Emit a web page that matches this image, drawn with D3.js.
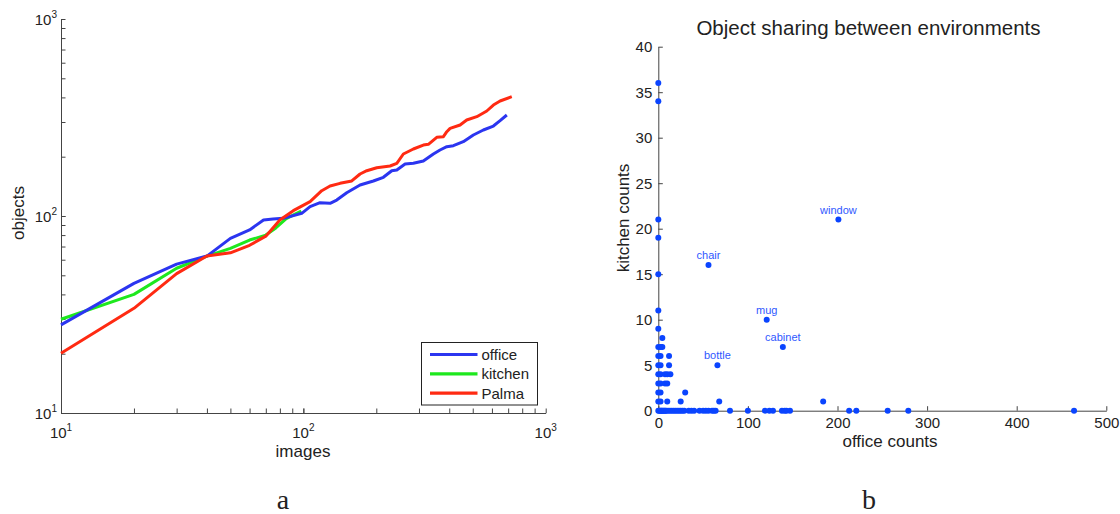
<!DOCTYPE html>
<html>
<head>
<meta charset="utf-8">
<script src="https://cdn.jsdelivr.net/npm/d3@7"></script>
<style>
  body { margin: 0; background: #fff; }
  svg { display: block; }
  text { font-family: "Liberation Sans", Arial, sans-serif; fill: #222; }
  .axis path, .axis line { stroke: #444; }
</style>
</head>
<body>
<div id="chart"></div>
<script>
// ---- panel a: objects vs images (log-log) ----
const officeImages = [10, 20, 30, 40, 50, 60, 68.5, 75, 82.7, 98.5, 106.6, 117.2, 128.9, 137.3, 151, 171.4, 194.5, 213.9, 231.6, 243, 262.9, 284.4, 312.7, 344, 366.4, 390.8, 416, 457.1, 503, 553, 608.3, 648.4, 691.2]
const officeObjects = [28, 45.5, 57, 62.6, 77, 85, 95.4, 96.5, 97.3, 103.2, 111.5, 116.8, 116, 120.5, 131.3, 143.7, 150.6, 157.2, 169.8, 171.2, 183.6, 185.1, 190.1, 206.4, 216.3, 224.9, 227.5, 238.4, 257.8, 273.3, 286.2, 304.7, 325.6]

const kitchenImages = [10, 20, 30, 40, 50, 60, 70, 77, 85, 92, 98]
const kitchenObjects = [29.9, 40, 54.3, 62.6, 68.5, 75.5, 80, 87, 97, 102, 106]

const palmaImages = [10, 20, 30, 40, 50, 60, 70, 80, 90.9, 106.6, 119.1, 128.9, 141.7, 158.4, 171.4, 182.7, 200.9, 228, 243, 258.6, 284.4, 312.7, 328, 355.2, 378.4, 390.8, 403.2, 443.4, 472.1, 519.5, 571.4, 608.3, 648.4, 724.4]
const palmaObjects = [20.1, 34, 51, 62.6, 65, 71, 79, 95.4, 106.4, 118.2, 134.4, 141.9, 146.5, 150.6, 163.4, 169.8, 175.8, 179.4, 185.1, 206.4, 218.8, 229.1, 231.1, 250.9, 252.7, 267.9, 278.6, 289.8, 307, 319.2, 341.2, 365.7, 383.5, 403.3]

const seriesNames = ['office', 'kitchen', 'Palma']
const seriesColors = ['#2b35f0', '#1ee81e', '#ff2a12']
const logTickExps = [1, 2, 3]

// ---- panel b: kitchen counts vs office counts ----
const officeCounts = [
  0, 0, 0, 0, 0, 0, 0, 0, 0, 0, 0, 0, 0, 0, 0,
  2.5, 2.5, 2.5, 2.5, 2.5, 2.5, 2.5, 2.5,
  4.5, 4.5, 7.5, 7.5, 10, 10, 10, 12, 12, 13.5, 25, 30, 68, 184,
  1, 3, 4, 5, 6, 7, 8, 9, 11, 13, 15, 17, 19, 21, 23, 25, 27, 29,
  34, 37, 40, 46, 50, 53, 56, 60, 62, 64, 80, 100,
  119, 124, 128, 138, 141, 143, 147, 213, 221, 256, 279, 464
]
const kitchenCounts = [
  36, 34, 21, 19, 15, 11, 9, 7, 6, 5, 4, 3, 2, 1, 0,
  7, 6, 5, 4, 3, 2, 1, 0,
  8, 7, 4, 3, 4, 3, 1, 6, 5, 4, 1, 2, 1, 1,
  0, 0, 0, 0, 0, 0, 0, 0, 0, 0, 0, 0, 0, 0, 0, 0, 0, 0,
  0, 0, 0, 0, 0, 0, 0, 0, 0, 0, 0, 0,
  0, 0, 0, 0, 0, 0, 0, 0, 0, 0, 0, 0
]
const namedObjects = ['window', 'chair', 'mug', 'cabinet', 'bottle']
const namedOffice = [201, 56, 121, 139, 66]
const namedKitchen = [21, 16, 10, 7, 5]
const xTicksB = [0, 100, 200, 300, 400, 500]
const yTicksB = [0, 5, 10, 15, 20, 25, 30, 35, 40]

const W = 1120, H = 514
const svg = d3.select('#chart').append('svg').attr('width', W).attr('height', H)

// ================= panel a =================
const xa = d3.scaleLog().domain([10, 1000]).range([61, 545.7])
const ya = d3.scaleLog().domain([10, 1000]).range([413, 19])

const minorVals = []
for (const dec of [10, 100]) for (let k = 1; k <= 10; k++) minorVals.push(dec * k)

svg.append('g')
  .attr('class', 'axis')
  .attr('transform', 'translate(0,413)')
  .call(d3.axisBottom(xa).tickValues(minorVals).tickFormat('').tickSizeInner(-4.5).tickSizeOuter(0))
svg.append('g')
  .attr('class', 'axis')
  .attr('transform', 'translate(61,0)')
  .call(d3.axisLeft(ya).tickValues(minorVals).tickFormat('').tickSizeInner(-4.5).tickSizeOuter(0))

// superscript tick labels
logTickExps.forEach(e => {
  const v = Math.pow(10, e)
  const tx = svg.append('text').attr('x', xa(v)).attr('y', 438).attr('font-size', 15).attr('text-anchor', 'middle')
  tx.append('tspan').text('10')
  tx.append('tspan').attr('font-size', 10).attr('dy', -7).text(e)
  const ty = svg.append('text').attr('x', 57).attr('y', ya(v) + 6).attr('font-size', 15).attr('text-anchor', 'end')
  ty.append('tspan').text('10')
  ty.append('tspan').attr('font-size', 10).attr('dy', -7).text(e)
})

const lineA = d3.line().x(d => xa(d[0])).y(d => ya(d[1]))
const seriesData = [
  d3.zip(officeImages, officeObjects),
  d3.zip(kitchenImages, kitchenObjects),
  d3.zip(palmaImages, palmaObjects)
]
// kitchen first, then office, then Palma on top
;[1, 0, 2].forEach(i => {
  svg.append('path')
    .datum(seriesData[i])
    .attr('fill', 'none')
    .attr('stroke', seriesColors[i])
    .attr('stroke-width', 3)
    .attr('stroke-linejoin', 'round')
    .attr('d', lineA)
})

svg.append('text').attr('x', 303).attr('y', 457).attr('font-size', 17).attr('text-anchor', 'middle').text('images')
svg.append('text').attr('transform', 'translate(24,213) rotate(-90)').attr('font-size', 17).attr('text-anchor', 'middle').text('objects')

// legend
const lg = svg.append('g').attr('transform', 'translate(421.5,342.5)')
lg.append('rect').attr('width', 116).attr('height', 62.5).attr('fill', '#fff').attr('stroke', '#222').attr('stroke-width', 1)
seriesNames.forEach((n, i) => {
  const yy = 12 + i * 19.3
  lg.append('line').attr('x1', 8.5).attr('x2', 56).attr('y1', yy).attr('y2', yy)
    .attr('stroke', seriesColors[i]).attr('stroke-width', 3.2)
  lg.append('text').attr('x', 60).attr('y', yy + 5.5).attr('font-size', 15).text(n)
})

// ================= panel b =================
const xb = d3.scaleLinear().domain([0, 500]).range([658.3, 1106.3])
const yb = d3.scaleLinear().domain([0, 40]).range([410.7, 46.7])

const gxb = svg.append('g')
  .attr('class', 'axis')
  .attr('transform', 'translate(0,410.7)')
  .call(d3.axisBottom(xb).tickValues(xTicksB).tickSizeInner(-4.5).tickSizeOuter(0).tickPadding(7))
gxb.selectAll('text').attr('font-size', 15).attr('fill', '#222').attr('font-family', null)
const gyb = svg.append('g')
  .attr('class', 'axis')
  .attr('transform', 'translate(658.3,0)')
  .call(d3.axisLeft(yb).tickValues(yTicksB).tickSizeInner(-4.5).tickSizeOuter(0).tickPadding(6))
gyb.selectAll('text').attr('font-size', 15).attr('fill', '#222').attr('font-family', null)

svg.append('g').selectAll('circle')
  .data(d3.zip(officeCounts, kitchenCounts))
  .join('circle')
  .attr('cx', d => xb(d[0]))
  .attr('cy', d => yb(d[1]))
  .attr('r', 3)
  .attr('fill', '#0a44ff')

svg.append('g').selectAll('circle')
  .data(d3.zip(namedOffice, namedKitchen))
  .join('circle')
  .attr('cx', d => xb(d[0]))
  .attr('cy', d => yb(d[1]))
  .attr('r', 3)
  .attr('fill', '#0a44ff')

svg.append('g').selectAll('text')
  .data(d3.zip(namedObjects, namedOffice, namedKitchen))
  .join('text')
  .attr('x', d => xb(d[1]))
  .attr('y', d => yb(d[2]) - 6)
  .attr('text-anchor', 'middle')
  .attr('font-size', 11)
  .style('fill', '#2f58ff')
  .text(d => d[0])

svg.append('text').attr('x', 868.5).attr('y', 35).attr('font-size', 20.5).attr('text-anchor', 'middle').text('Object sharing between environments')
svg.append('text').attr('x', 890).attr('y', 447).attr('font-size', 17).attr('text-anchor', 'middle').text('office counts')
svg.append('text').attr('transform', 'translate(629,218) rotate(-90)').attr('font-size', 17).attr('text-anchor', 'middle').text('kitchen counts')

// captions
svg.append('text').attr('x', 283).attr('y', 509).attr('font-size', 28).attr('text-anchor', 'middle')
  .style('font-family', '"Liberation Serif", "DejaVu Serif", serif').text('a')
svg.append('text').attr('x', 869).attr('y', 509).attr('font-size', 28).attr('text-anchor', 'middle')
  .style('font-family', '"Liberation Serif", "DejaVu Serif", serif').text('b')
</script>
</body>
</html>
